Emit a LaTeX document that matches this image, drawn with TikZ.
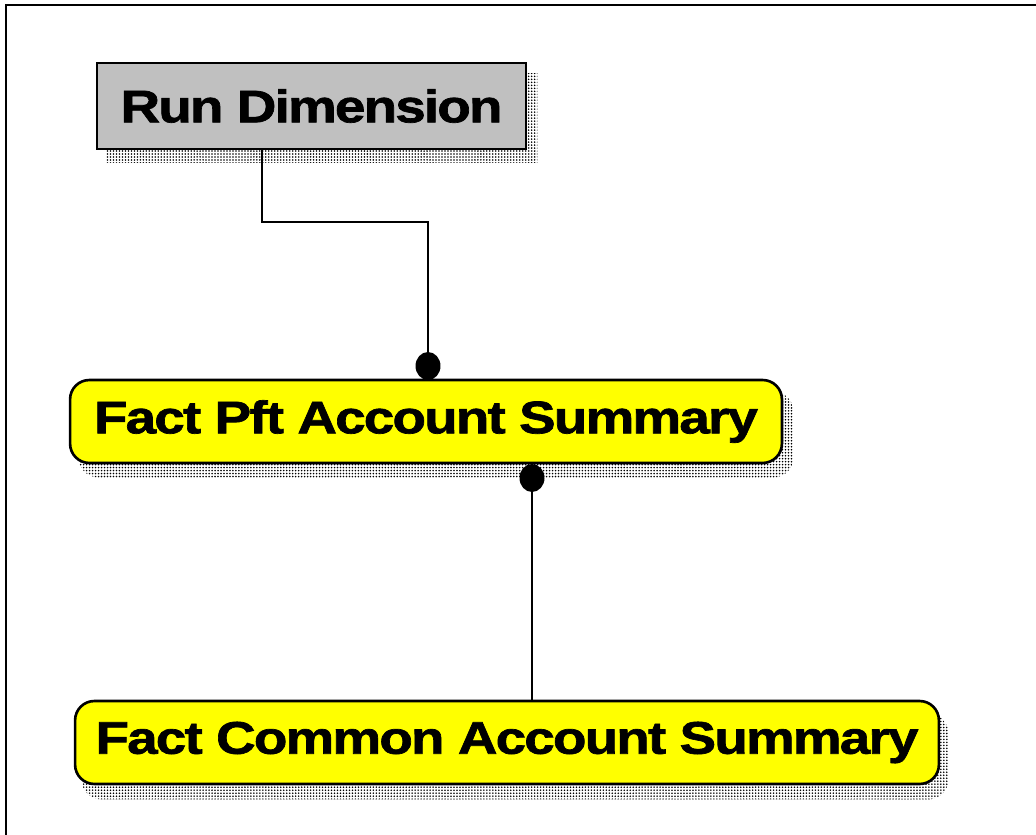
\documentclass[tikz,border=0pt]{standalone}
\usepackage{fontspec}
\newfontfamily\erfont{Liberation Sans}[FakeStretch=1.2, LetterSpace=-4, FakeBold=1.5]
\usepackage{xcolor}
\definecolor{dimgray}{HTML}{C0C0C0}
\definecolor{factyellow}{HTML}{FFFF00}
\usepackage{tikz}
\usetikzlibrary{shapes.geometric,positioning,backgrounds,patterns.meta}

\begin{document}
\begin{tikzpicture}[x=0.02cm, y=-0.02cm,
    entity/.style={draw=black, line width=1.5pt, inner sep=0pt, text=black,
      font=\erfont\bfseries\fontsize{26}{30}\selectfont},
    dimbox/.style={entity, fill=dimgray},
    factbox/.style={entity, fill=factyellow, rounded corners=11pt},
    boxshadow/.style={pattern={Dots[distance=1.7pt,radius=0.5pt]}, pattern color=black},
    link/.style={line width=1.3pt, black},
    enddot/.style={ellipse, fill=black, inner sep=0pt, minimum width=0.5cm, minimum height=0.56cm}]
    \useasboundingbox (0,0) rectangle (1036,835);
    % frame
    \coordinate (frametl) at (6,5);
    \draw[line width=1.5pt] (6,835) -- (frametl) -- (1036,5);
    % entities
    \node[dimbox, minimum width=8.58cm, minimum height=1.72cm] (run) at (311.5,106) {Run Dimension};
    \node[factbox, minimum width=14.24cm, minimum height=1.66cm] (pft) at (426,421.5) {Fact Pft Account Summary};
    \node[factbox, minimum width=17.28cm, minimum height=1.66cm] (common) at (507,742.5) {Fact Common Account Summary};
    % shadows
    \begin{scope}[on background layer]
      \fill[boxshadow] ([shift={(10,12)}]run.north west) rectangle ([shift={(10,12)}]run.south east);
      \fill[boxshadow, rounded corners=11pt] ([shift={(10,13)}]pft.north west) rectangle ([shift={(10,13)}]pft.south east);
      \fill[boxshadow, rounded corners=11pt] ([shift={(8,14)}]common.north west) rectangle ([shift={(8,14)}]common.south east);
    \end{scope}
    % relationships
    \coordinate (elbow) at (262,222);
    \node[enddot] (topdot) at (428,366) {};
    \node[enddot] (botdot) at (532,478) {};
    \draw[link] (run.south -| elbow) -- (elbow) -| (topdot);
    \draw[link] (botdot) -- (common.north -| botdot);
  \end{tikzpicture}
\end{document}
